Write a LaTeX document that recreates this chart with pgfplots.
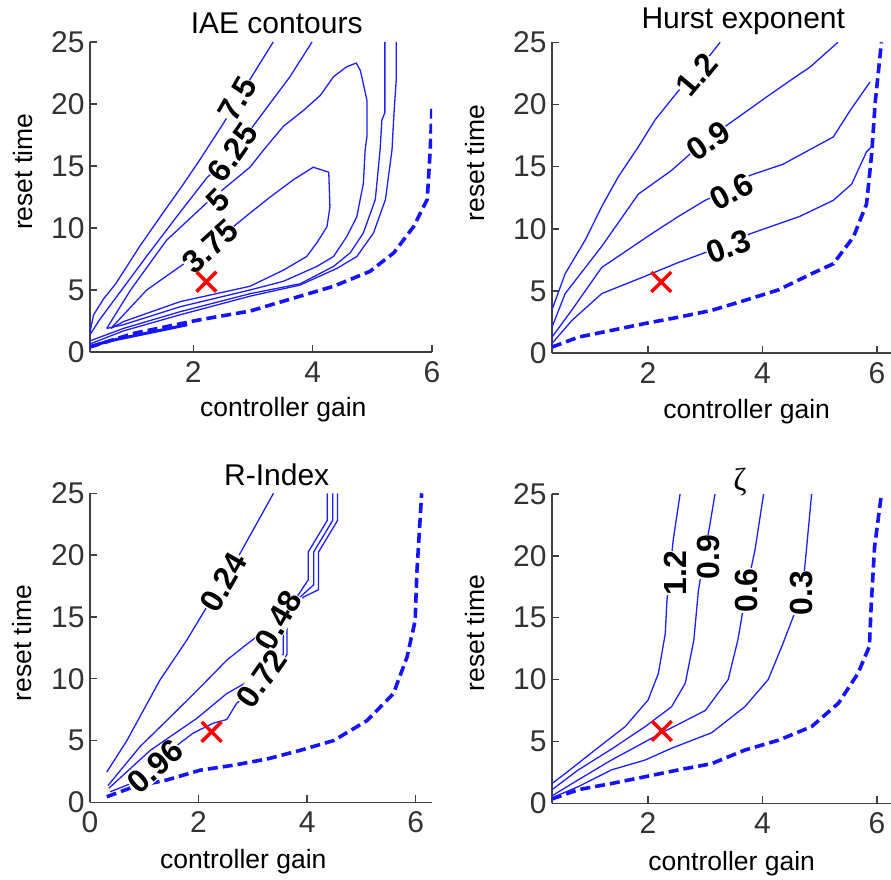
\documentclass[border=0pt]{standalone}
\usepackage{fontspec}
\setmainfont{Liberation Sans}
\newfontfamily\seriffont{Liberation Serif}
\usepackage{pgfplots}
\pgfplotsset{compat=1.18}
\pgfplotsset{
  panel/.style={
    scale only axis, width=342pt, height=310pt,
    ymin=0, ymax=25, ytick={0,5,10,15,20,25}, xtick={0,2,4,6},
    axis x line=bottom, axis y line=left,
    axis line style={-, line width=1.6pt, black!75},
    tick align=inside, major tick length=7pt,
    every tick/.style={black!75, line width=1.4pt},
    tick label style={font=\fontsize{30}{32}\selectfont, text=black!80},
    /pgf/number format/assume math mode=true,
    xticklabel shift=6pt, yticklabel shift=2pt,
    anchor=south west,
  },
  cont/.style={color={rgb,255:red,30;green,30;blue,255}, line width=1.3pt},
  dsh/.style={color={rgb,255:red,20;green,20;blue,255}, line width=3.6pt, dash pattern=on 10pt off 5pt},
  rx/.style={only marks, mark=x, mark size=14pt, red, line width=3.5pt},
}
\tikzset{lab/.style={font=\fontsize{32}{34}\selectfont\bfseries, fill=white, inner sep=0pt}}
\begin{document}
\begin{tikzpicture}
\path[use as bounding box, fill=white] (0,0) rectangle (891pt,879pt);
% ---------------- Panel 1 ----------------
\begin{axis}[panel, at={(90pt,527pt)}, xmin=0.27, xmax=6]
\addplot[cont] coordinates {(0.27,1.6) (0.33,3.0) (0.5,4.3) (0.7,5.5) (1.1,8.5) (1.49,11.2) (1.8,13.3) (2.11,15.5) (2.5,18.4) (2.8,20.8) (3.12,23.3) (3.34,25)};
\addplot[cont] coordinates {(0.27,1.4) (0.43,2.6) (0.8,5.0) (1.2,7.6) (1.72,10.9) (2.22,14.0) (2.62,15.9) (3.0,18.2) (3.62,22.2) (3.99,25)};
\addplot[cont] coordinates {(0.55,1.9) (0.95,5.0) (1.55,9.0) (2.22,12.0) (2.95,14.9) (3.18,16.3) (3.51,18.2) (3.85,19.5) (4.13,20.7) (4.35,22.2) (4.57,23.0) (4.73,23.3) (4.80,22.7) (4.91,20.3) (4.91,17.4) (4.88,16.3) (4.85,13.6) (4.74,10.9) (4.57,9.3) (4.35,7.7) (4.07,6.9) (3.51,5.7) (2.95,5.0) (1.78,3.65) (0.83,2.2) (0.55,1.9)};
\addplot[cont] coordinates {(0.62,1.9) (1.22,5.0) (1.78,6.9) (2.28,8.6) (2.67,10.1) (2.95,11.2) (3.29,12.5) (3.68,13.9) (4.01,14.9) (4.27,14.5) (4.29,11.7) (4.24,10.1) (4.07,8.8) (3.90,7.7) (3.51,6.6) (2.95,5.3) (1.78,4.06) (0.83,2.45) (0.62,1.9)};
\addplot[cont] coordinates {(0.27,0.9) (0.83,1.9) (1.78,3.25) (2.95,4.7) (3.79,5.5) (4.35,6.9) (4.63,8.0) (4.85,9.6) (5.05,12.3) (5.13,16.3) (5.16,18.7) (5.21,19.3) (5.21,25)};
\addplot[cont] coordinates {(0.27,0.65) (0.83,1.7) (1.78,3.0) (2.95,4.5) (3.79,5.4) (4.41,6.75) (4.74,7.7) (5.02,9.6) (5.22,12.3) (5.33,16.3) (5.36,19.0) (5.40,21.9) (5.40,25)};
\addplot[color={rgb,255:red,20;green,20;blue,255}, line width=3pt] coordinates {(0.27,0.45) (0.6,0.9) (1.0,1.3) (1.5,1.8) (1.9,2.2)};
\addplot[dsh] coordinates {(0.27,0.4) (1.0,1.5) (2.11,2.6) (2.95,3.3) (3.51,4.1) (4.35,5.3) (4.96,6.5) (5.36,8.0) (5.69,10.1) (5.92,12.3) (5.97,16.3) (6.0,19.6)};
\node[lab, rotate=60] at (axis cs:2.74,20.4) {7.5};
\node[lab, rotate=55] at (axis cs:2.66,16.1) {6.25};
\node[lab, rotate=45] at (axis cs:2.42,12.2) {5};
\node[lab, rotate=42] at (axis cs:2.28,8.5) {3.75};
\addplot[rx] coordinates {(2.22,5.67)};
\end{axis}
% ---------------- Panel 2 ----------------
\begin{axis}[panel, at={(552pt,525.7pt)}, height=311pt, xmin=0.32, xmax=6.3]
\addplot[cont] coordinates {(0.32,3.5) (0.55,6.4) (0.90,9.1) (1.19,11.8) (1.48,14.2) (1.83,16.6) (2.12,18.75) (2.53,21.1) (2.85,22.6) (3.26,25)};
\addplot[cont] coordinates {(0.32,2.1) (0.55,4.8) (1.19,8.6) (1.83,12.8) (2.41,14.7) (3.05,17.3) (3.43,18.5) (4.07,20.6) (4.57,22.2) (4.83,23.0) (5.32,25)};
\addplot[cont] coordinates {(0.32,1.3) (0.67,3.5) (1.19,6.9) (2.06,9.6) (2.53,11.0) (3.0,12.3) (3.46,13.3) (3.78,14.3) (4.36,15.2) (5.24,17.4) (5.53,19.5) (5.88,21.8)};
\addplot[cont] coordinates {(0.32,0.8) (0.67,2.65) (1.19,4.8) (1.95,6.2) (2.53,7.3) (3.0,8.1) (3.40,8.7) (3.78,9.6) (4.65,11.0) (5.24,12.3) (5.56,13.6) (5.82,16.2) (5.91,16.6)};
\addplot[dsh] coordinates {(0.32,0.5) (0.78,1.3) (1.37,1.85) (1.95,2.4) (2.53,2.9) (3.11,3.45) (3.69,4.25) (4.28,5.1) (4.86,6.4) (5.24,7.2) (5.59,9.35) (5.82,12.0) (5.91,16.05) (5.97,20.1) (6.08,25)};
\node[lab, rotate=50] at (axis cs:2.85,22.4) {1.2};
\node[lab, rotate=35] at (axis cs:3.05,17.1) {0.9};
\node[lab, rotate=28] at (axis cs:3.46,13.0) {0.6};
\node[lab, rotate=20] at (axis cs:3.40,8.6) {0.3};
\addplot[rx] coordinates {(2.23,5.73)};
\end{axis}
% ---------------- Panel 3 ----------------
\begin{axis}[panel, at={(90pt,76.7pt)}, height=309pt, xmin=0, xmax=6.3]
\addplot[cont] coordinates {(0.31,2.45) (0.68,5.0) (1.29,9.9) (1.78,13.1) (2.15,15.8) (2.46,17.7) (2.76,20.1) (3.38,25)};
\addplot[cont] coordinates {(0.33,1.35) (0.92,4.5) (1.41,6.6) (2.03,9.3) (2.52,11.5) (2.89,12.8) (3.2,13.8) (3.5,15.0) (3.81,16.6) (4.02,18.0) (4.02,20.25) (4.37,22.8) (4.37,25)};
\addplot[cont] coordinates {(0.35,1.15) (1.11,4.2) (1.97,6.8) (2.52,8.8) (3.0,10.0) (3.44,11.0) (3.56,12.0) (3.56,14.2) (3.7,15.5) (3.87,16.6) (4.12,17.6) (4.12,20.25) (4.47,22.8) (4.47,25)};
\addplot[cont] coordinates {(0.37,0.85) (0.8,1.6) (1.17,2.8) (1.6,4.6) (1.90,5.6) (2.27,6.4) (2.52,6.7) (2.70,8.0) (3.1,9.6) (3.5,10.9) (3.63,12.0) (3.63,14.2) (3.76,15.5) (3.93,16.6) (4.21,17.2) (4.21,20.25) (4.56,22.8) (4.56,25)};
\addplot[dsh] coordinates {(0.31,0.45) (0.80,1.25) (1.41,1.8) (2.03,2.6) (2.64,3.0) (3.26,3.5) (3.87,4.2) (4.49,5.0) (5.10,6.6) (5.59,8.8) (5.84,11.75) (5.99,14.7) (6.02,18.5) (6.11,25)};
\node[lab, rotate=60] at (axis cs:2.46,17.8) {0.24};
\node[lab, rotate=60] at (axis cs:3.47,14.7) {0.48};
\node[lab, rotate=55] at (axis cs:3.16,10.0) {0.72};
\node[lab, rotate=42] at (axis cs:1.2,2.9) {0.96};
\addplot[rx] coordinates {(2.24,5.7)};
\end{axis}
% ---------------- Panel 4 ----------------
\begin{axis}[panel, at={(552pt,75.7pt)}, height=309.3pt, xmin=0.32, xmax=6.3]
\addplot[cont] coordinates {(0.32,1.6) (0.55,2.4) (1.07,4.3) (1.60,6.2) (2.0,8.35) (2.18,10.5) (2.30,13.7) (2.33,16.4) (2.44,21.3) (2.56,25)};
\addplot[cont] coordinates {(0.32,1.1) (0.78,2.7) (1.4,4.5) (1.95,6.2) (2.41,7.8) (2.65,9.7) (2.80,13.2) (2.88,17.2) (2.98,20) (3.08,22.5) (3.17,25)};
\addplot[cont] coordinates {(0.32,0.6) (0.78,1.9) (1.36,3.5) (2.24,5.7) (3.0,7.5) (3.40,10.0) (3.57,13.2) (3.64,15.1) (3.72,17.2) (3.87,20.5) (4.02,25)};
\addplot[cont] coordinates {(0.35,0.5) (0.78,1.35) (1.36,2.7) (1.95,3.5) (2.41,4.45) (3.11,5.7) (3.69,7.8) (4.10,10.0) (4.34,12.7) (4.54,15.1) (4.69,17.0) (4.74,19.1) (4.86,25)};
\addplot[dsh] coordinates {(0.32,0.35) (0.78,1.1) (1.36,1.6) (1.95,2.15) (2.53,2.7) (3.11,3.2) (3.69,4.3) (4.28,5.1) (4.86,6.2) (5.33,8.1) (5.67,10.5) (5.87,12.7) (5.90,15.9) (5.96,20.7) (6.08,25)};
\node[lab, rotate=90] at (axis cs:2.47,18.6) {1.2};
\node[lab, rotate=90] at (axis cs:3.05,19.9) {0.9};
\node[lab, rotate=90] at (axis cs:3.72,17.2) {0.6};
\node[lab, rotate=90] at (axis cs:4.69,17.0) {0.3};
\addplot[rx] coordinates {(2.24,5.85)};
\end{axis}
% ---------------- Titles and labels ----------------
\node[font=\fontsize{30}{34}\selectfont] at (276.7pt,855.7pt) {IAE contours};
\node[font=\fontsize{30}{34}\selectfont] at (743.3pt,857.3pt) {Hurst exponent};
\node[font=\fontsize{30}{34}\selectfont] at (276.7pt,404pt) {R-Index};
\node[font=\seriffont\fontsize{32}{34}\selectfont] at (740pt,397.3pt) {ζ};
\node[font=\fontsize{26.5}{30}\selectfont, rotate=90] at (23.3pt,707.3pt) {reset time};
\node[font=\fontsize{26.5}{30}\selectfont, rotate=90] at (475pt,715.7pt) {reset time};
\node[font=\fontsize{26.5}{30}\selectfont, rotate=90] at (21.7pt,235.7pt) {reset time};
\node[font=\fontsize{26.5}{30}\selectfont, rotate=90] at (475pt,245.7pt) {reset time};
\node[font=\fontsize{26.5}{30}\selectfont] at (283.3pt,469pt) {controller gain};
\node[font=\fontsize{26.5}{30}\selectfont] at (746.7pt,467.3pt) {controller gain};
\node[font=\fontsize{26.5}{30}\selectfont] at (243.3pt,17.3pt) {controller gain};
\node[font=\fontsize{26.5}{30}\selectfont] at (731.7pt,15.7pt) {controller gain};
\end{tikzpicture}
\end{document}
